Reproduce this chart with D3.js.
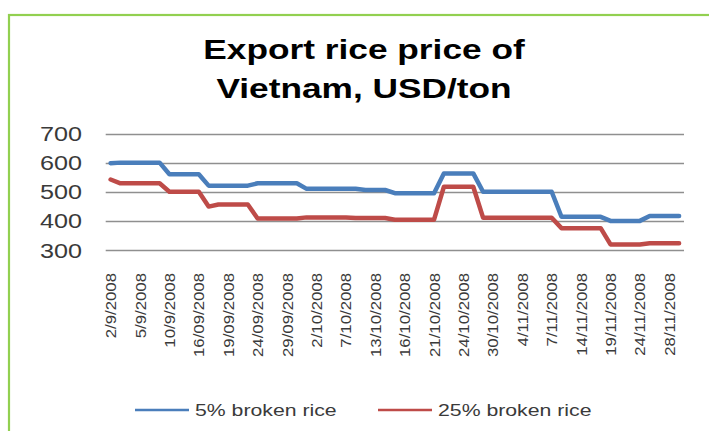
<!DOCTYPE html>
<html>
<head>
<meta charset="utf-8">
<script src="https://cdn.jsdelivr.net/npm/d3@7"></script>
<style>
  body { margin: 0; background: #fff; }
  text { font-family: "Liberation Sans", Arial, sans-serif; }
</style>
</head>
<body>
<div id="chart"></div>
<script>
// Export rice price of Vietnam, daily quotes Sep - Nov 2008

// tick labels, one for every 3rd quote
var tickLabels = ["2/9/2008", "5/9/2008", "10/9/2008", "16/09/2008", "19/09/2008",
    "24/09/2008", "29/09/2008", "2/10/2008", "7/10/2008", "13/10/2008",
    "16/10/2008", "21/10/2008", "24/10/2008", "30/10/2008", "4/11/2008",
    "7/11/2008", "14/11/2008", "19/11/2008", "24/11/2008", "28/11/2008"];
var labelEvery = 3;

var seriesNames = ["5% broken rice", "25% broken rice"];

var broken5 = [598, 600, 600, 600, 600, 600, 560, 560, 560, 560,
    521, 521, 521, 521, 521, 529, 529, 529, 529, 529,
    510, 510, 510, 510, 510, 510, 506, 506, 506, 495,
    495, 495, 495, 495, 563, 563, 563, 563, 500, 500,
    500, 500, 500, 500, 500, 500, 414, 414, 414, 414,
    414, 400, 400, 400, 400, 417, 417, 417, 417];

var broken25 = [542, 529, 529, 529, 529, 529, 500, 500, 500, 500,
    449, 456, 456, 456, 456, 408, 408, 408, 408, 408,
    412, 412, 412, 412, 412, 410, 410, 410, 410, 404,
    404, 404, 404, 404, 517, 517, 517, 517, 411, 411,
    411, 411, 411, 411, 411, 411, 375, 375, 375, 375,
    375, 319, 319, 319, 319, 323, 323, 323, 323];

var yTicks = [300, 400, 500, 600, 700];

var width = 709;
var height = 431;
var colors = ["#4a7ebb", "#be4b48"];

var svg = d3.select("#chart")
    .append("svg")
    .attr("width", width)
    .attr("height", height);

// green frame of the chart object (cut at right and bottom)
svg.append("rect")
    .attr("x", 9)
    .attr("y", 15)
    .attr("width", 800)
    .attr("height", 500)
    .attr("fill", "#fff")
    .attr("stroke", "#92d050")
    .attr("stroke-width", 2.2);

// title, two lines
var title = ["Export rice price of", "Vietnam, USD/ton"];
svg.selectAll(".title")
    .data(title)
    .enter()
    .append("text")
    .attr("class", "title")
    .attr("transform", function(d, i) { return "translate(364," + (59 + i * 39) + ") scale(1.26,1)"; })
    .attr("text-anchor", "middle")
    .style("font-size", "28px")
    .style("font-weight", "bold")
    .attr("fill", "#000")
    .text(function(d) { return d; });

// scales
var x = d3.scalePoint()
    .domain(d3.range(broken5.length))
    .range([105.7, 684])
    .padding(0.5);

var y = d3.scaleLinear()
    .domain([300, 700])
    .range([250, 133.5]);

// horizontal gridlines
svg.append("g")
    .selectAll("line")
    .data(yTicks)
    .enter()
    .append("line")
    .attr("x1", 105.7)
    .attr("x2", 684)
    .attr("y1", function(d) { return Math.round(y(d)) + 0.5; })
    .attr("y2", function(d) { return Math.round(y(d)) + 0.5; })
    .attr("stroke", "#8f8f8f")
    .attr("stroke-width", 1.3);

// y labels
svg.append("g")
    .selectAll("text")
    .data(yTicks)
    .enter()
    .append("text")
    .attr("transform", function(d) { return "translate(82," + y(d) + ") scale(1.2,1)"; })
    .attr("text-anchor", "end")
    .attr("dy", "0.36em")
    .style("font-size", "21px")
    .attr("fill", "#3a3a3a")
    .text(function(d) { return d; });

// x axis labels, rotated
var xAxis = d3.axisBottom(x)
    .tickValues(d3.range(broken5.length).filter(function(i) { return i % labelEvery === 0; }))
    .tickFormat(function(i) { return tickLabels[i / labelEvery]; })
    .tickSize(0);

var xg = svg.append("g")
    .attr("transform", "translate(0,250)")
    .call(xAxis);
xg.select(".domain").remove();
xg.selectAll("text")
    .attr("x", 0)
    .attr("y", 0)
    .attr("dy", "0.36em")
    .attr("text-anchor", "end")
    .attr("transform", "translate(0,23) rotate(-90) scale(1.2,1)")
    .style("font-size", "14px")
    .style("font-family", "'Liberation Sans', Arial, sans-serif")
    .attr("fill", "#3a3a3a");

// lines
var line = d3.line()
    .x(function(d, i) { return x(i); })
    .y(function(d) { return y(d); });

[broken5, broken25].forEach(function(s, k) {
    svg.append("path")
        .datum(s)
        .attr("d", line)
        .attr("fill", "none")
        .attr("stroke", colors[k])
        .attr("stroke-width", 4.5)
        .attr("stroke-linejoin", "round")
        .attr("stroke-linecap", "round");
});

// legend
var legendX = [135, 378];
var legend = svg.append("g");
seriesNames.forEach(function(name, k) {
    legend.append("line")
        .attr("x1", legendX[k])
        .attr("x2", legendX[k] + 54)
        .attr("y1", 410)
        .attr("y2", 410)
        .attr("stroke", colors[k])
        .attr("stroke-width", 2.5);
    legend.append("text")
        .attr("transform", "translate(" + (legendX[k] + 60) + ",410) scale(1.25,1)")
        .attr("dy", "0.36em")
        .style("font-size", "17px")
        .attr("fill", "#3a3a3a")
        .text(name);
});
</script>
</body>
</html>
